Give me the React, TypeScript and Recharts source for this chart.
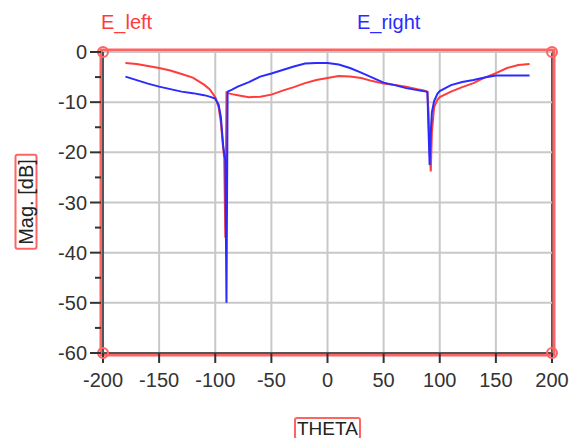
import React from 'react';
import { LineChart, Line, XAxis, YAxis, CartesianGrid, ReferenceArea, ReferenceDot, ReferenceLine } from 'recharts';

const theta = [
  -180, -170, -160, -150, -140, -130, -120, -110, -105, -100, -97, -95, -93, -92, -91, -90, -89, -85, -80, -70,
  -60, -50, -40, -30, -20, -10, 0, 10, 20, 30, 40, 50, 60, 70, 80, 85, 88, 89, 90, 91,
  92, 93, 95, 98, 100, 110, 120, 130, 140, 150, 160, 170, 180,
];
const eLeft = [
  -2.2, -2.4, -2.8, -3.2, -3.7, -4.4, -5.1, -6.5, -7.4, -9.0, -11, -14, -19, -21.2, -37, -8.1, -8.2, -8.4, -8.6, -9.0,
  -8.9, -8.5, -7.7, -7.0, -6.2, -5.6, -5.2, -4.8, -4.9, -5.2, -5.8, -6.3, -6.6, -6.9, -7.4, -7.6, -7.8, -7.9, -12, -20,
  -23.8, -16, -11, -9.5, -9.0, -7.9, -7.0, -6.2, -5.1, -4.2, -3.2, -2.6, -2.4,
];
const eRight = [
  -4.9, -5.6, -6.3, -6.9, -7.4, -7.9, -8.2, -8.6, -8.9, -9.3, -10.5, -13, -18.5, -20.3, -21.5, -50, -7.9, -7.5, -6.9, -6.0,
  -4.9, -4.3, -3.6, -2.9, -2.3, -2.2, -2.2, -2.5, -3.2, -4.1, -5.1, -6.1, -6.6, -7.2, -7.6, -7.8, -7.9, -8.0, -15.6, -22.5,
  -16, -12, -9.8, -8.3, -7.8, -6.6, -6.0, -5.6, -5.1, -4.7, -4.7, -4.7, -4.7,
];
const xTicks = [-200, -150, -100, -50, 0, 50, 100, 150, 200];
const yTicks = [0, -10, -20, -30, -40, -50, -60];
const yMinorTicks = [-5, -15, -25, -35, -45, -55];
const seriesNames = ['E_left', 'E_right'];
const xLabel = 'THETA';
const yLabel = 'Mag. [dB]';

const data = theta.map((t, i) => ({ theta: t, [seriesNames[0]]: eLeft[i], [seriesNames[1]]: eRight[i] }));
const yAllTicks = [...yTicks, ...yMinorTicks].sort((a, b) => b - a);

const FONT = '"Liberation Sans", Arial, sans-serif';
const RED = '#ff3b3b';
const BLUE = '#2b2bff';
const FRAME_RED = '#ff6464';
const GRID = '#c8c8c8';

const Frame = (props: any) => {
  const { x, y, width, height } = props;
  return (
    <g>
      <rect x={x} y={y} width={width} height={height} fill="none" stroke="#555" strokeWidth={2} />
      <rect x={x - 2} y={y - 2} width={width + 4} height={height + 4} fill="none" stroke={FRAME_RED} strokeWidth={3} />
    </g>
  );
};

const YTick = (props: any) => {
  const { x, y, payload } = props;
  const v = payload.value;
  const major = yTicks.includes(v);
  return (
    <g>
      <line x1={x - (major ? 13 : 8)} x2={x - 2} y1={y} y2={y} stroke="#333" strokeWidth={2} />
      {major && (
        <text x={x - 16} y={y} dy="0.355em" textAnchor="end" fill="#333" fontSize={20} fontFamily={FONT}>
          {v}
        </text>
      )}
    </g>
  );
};

export default function App() {
  return (
    <div style={{ position: 'absolute', left: 0, top: 0, width: 573, height: 438, background: '#fff', fontFamily: FONT }}>
      <LineChart width={573} height={438} data={data} margin={{ top: 52, right: 21, bottom: 45, left: 43 }}>
        <CartesianGrid stroke={GRID} strokeWidth={2} horizontal={false} />
        {yTicks.map((v) => (
          <ReferenceLine key={v} y={v} stroke={GRID} strokeWidth={2} />
        ))}
        <XAxis
          dataKey="theta"
          type="number"
          domain={[-200, 200]}
          ticks={xTicks}
          height={40}
          tickSize={10}
          tickMargin={10}
          axisLine={{ stroke: '#555', strokeWidth: 2 }}
          tickLine={{ stroke: '#333', strokeWidth: 2 }}
          tick={{ fill: '#333', fontSize: 20, fontFamily: FONT }}
          allowDataOverflow
        />
        <YAxis
          type="number"
          domain={[-60, 0]}
          ticks={yAllTicks}
          interval={0}
          width={60}
          tickSize={0}
          tickMargin={0}
          axisLine={{ stroke: '#555', strokeWidth: 2 }}
          tickLine={false}
          tick={<YTick />}
          allowDataOverflow
        />
        <ReferenceArea x1={-200} x2={200} y1={-60} y2={0} ifOverflow="visible" shape={<Frame />} />
        <Line dataKey={seriesNames[0]} stroke={RED} strokeWidth={2} dot={false} type="linear" isAnimationActive={false} />
        <Line dataKey={seriesNames[1]} stroke={BLUE} strokeWidth={2} dot={false} type="linear" isAnimationActive={false} />
        <ReferenceDot x={-200} y={0} r={5} fill="none" stroke={FRAME_RED} strokeWidth={2} ifOverflow="visible" />
        <ReferenceDot x={200} y={0} r={5} fill="none" stroke={FRAME_RED} strokeWidth={2} ifOverflow="visible" />
        <ReferenceDot x={-200} y={-60} r={5} fill="none" stroke={FRAME_RED} strokeWidth={2} ifOverflow="visible" />
        <ReferenceDot x={200} y={-60} r={5} fill="none" stroke={FRAME_RED} strokeWidth={2} ifOverflow="visible" />
      </LineChart>
      <div style={{ position: 'absolute', left: 101, top: 12, fontSize: 20, lineHeight: '20px', color: RED }}>{seriesNames[0]}</div>
      <div style={{ position: 'absolute', left: 357, top: 12, fontSize: 20, lineHeight: '20px', color: BLUE }}>{seriesNames[1]}</div>
      <div
        style={{
          position: 'absolute', left: 294, top: 417, fontSize: 19, lineHeight: '19px', color: '#222',
          border: `2px solid ${FRAME_RED}`, borderRadius: 3, padding: '0 1px', whiteSpace: 'nowrap',
        }}
      >
        {xLabel}
      </div>
      <div
        style={{
          position: 'absolute', left: 25.5, top: 202, transform: 'translate(-50%, -50%) rotate(-90deg)',
          fontSize: 20, lineHeight: '19px', color: '#222', border: `2px solid ${FRAME_RED}`, borderRadius: 3,
          padding: '0 3px', whiteSpace: 'nowrap',
        }}
      >
        {yLabel}
      </div>
    </div>
  );
}
